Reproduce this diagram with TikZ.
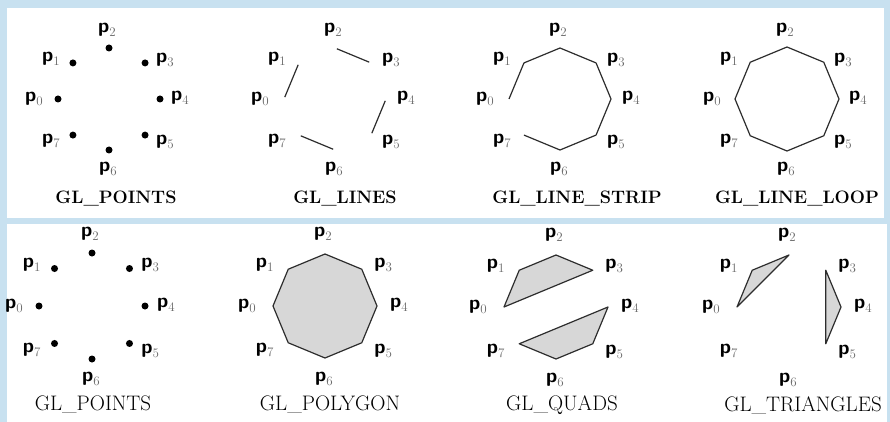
\documentclass[tikz,border=0pt]{standalone}
\usepackage{fontspec}
\usetikzlibrary{calc}
\definecolor{bandblue}{RGB}{200,225,240}
\definecolor{edgegray}{RGB}{45,45,45}
\definecolor{facegray}{RGB}{215,215,215}
\definecolor{subgray}{RGB}{105,105,105}

\begin{document}
\begin{tikzpicture}[x=1pt, y=-1pt,
  plabel/.style={inner sep=0pt, font=\fontsize{20}{20}\selectfont\sffamily\bfseries},
  toprule/.style={inner sep=0pt, font=\fontsize{18}{18}\selectfont\bfseries},
  botrule/.style={inner sep=0pt, font=\fontsize{21}{21}\selectfont},
  edge/.style={draw=edgegray, line width=1.2pt, line join=round},
  face/.style={edge, fill=facegray},
  vdot/.style={fill=black}]
% background and the two white panels
\fill[bandblue] (0,0) rectangle (890,422);
\fill[white] (7,8) rectangle (884,218);
\fill[white] (7,224) rectangle (887,422);
% eight octagons: name/centre x/centre y/radius/label spread
\foreach \pan/\cx/\cy/\r/\s in {pta/109/99/51/1, lin/335/99/51/1, strip/560/99/51/1, loop/787/99/52/1,
                                ptb/92/306/53/1.04, poly/325/306/52/1.04, quad/556/307/52/1.04, tri/789/307/52/1.04} {
  \coordinate (\pan) at (\cx,\cy);
  \foreach \k/\dx/\dy in {0/-75/0, 1/-58/-40, 2/-2/-69, 3/56/-39, 4/71/-1, 5/56/43, 6/-1/70, 7/-58/42} {
    \coordinate (\pan-\k) at ({\cx+\r*cos(180-45*\k)}, {\cy-\r*sin(180-45*\k)});
    \node[plabel] (\pan-p\k) at ({\cx+\s*\dx}, {\cy+\s*\dy}) {p\raisebox{-4pt}{\fontsize{13}{13}\selectfont\rmfamily\mdseries\color{subgray}\k}};
  }
}
% GL_POINTS
\foreach \k in {0,...,7} {
  \fill[vdot] (pta-\k) circle (3.5pt);
  \fill[vdot] (ptb-\k) circle (3.5pt);
}
% GL_LINES
\foreach \a/\b in {0/1, 2/3, 4/5, 6/7}
  \draw[edge, shorten <=2pt, shorten >=2pt] (lin-\a) -- (lin-\b);
% GL_LINE_STRIP and GL_LINE_LOOP
\draw[edge] (strip-0) \foreach \k in {1,...,7} { -- (strip-\k) };
\draw[edge] (loop-0) \foreach \k in {1,...,7} { -- (loop-\k) } -- cycle;
% GL_POLYGON
\draw[face] (poly-0) \foreach \k in {1,...,7} { -- (poly-\k) } -- cycle;
% GL_QUADS
\draw[face] (quad-0) -- (quad-1) -- (quad-2) -- (quad-3) -- cycle;
\draw[face] (quad-4) -- (quad-5) -- (quad-6) -- (quad-7) -- cycle;
% GL_TRIANGLES
\draw[face] (tri-0) -- (tri-1) -- (tri-2) -- cycle;
\draw[face] (tri-3) -- (tri-4) -- (tri-5) -- cycle;
% captions
\node[toprule] (cap-pta) at (116,199) {GL\_POINTS};
\node[toprule] (cap-lin) at (345,199) {GL\_LINES};
\node[toprule] (cap-strip) at (577,199) {GL\_LINE\_STRIP};
\node[toprule] (cap-loop) at (797,199) {GL\_LINE\_LOOP};
\node[botrule] (cap-ptb) at (93,405) {GL\_POINTS};
\node[botrule] (cap-poly) at (330,405) {GL\_POLYGON};
\node[botrule] (cap-quad) at (562,405) {GL\_QUADS};
\node[botrule] (cap-tri) at (803,405) {GL\_TRIANGLES};
\end{tikzpicture}
\end{document}
